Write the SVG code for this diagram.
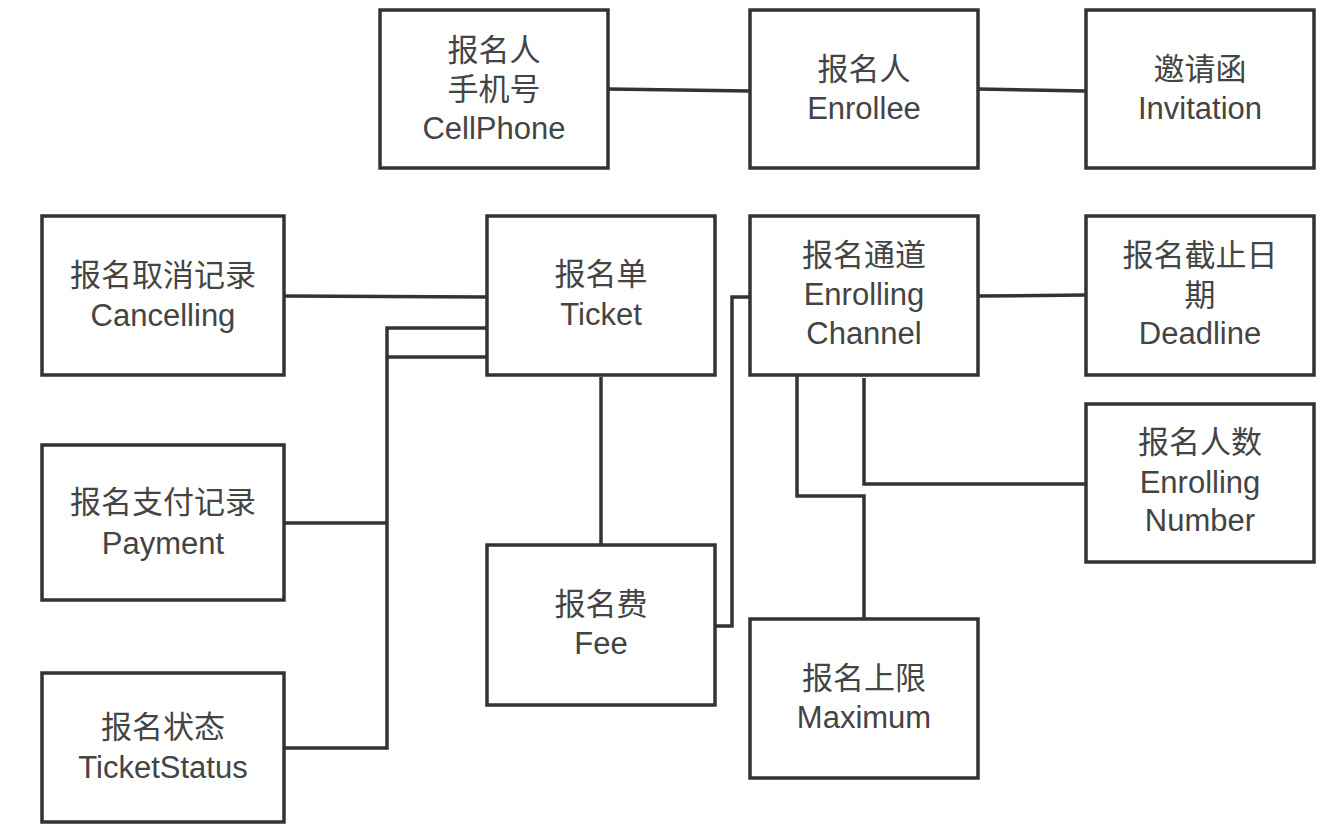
<svg xmlns="http://www.w3.org/2000/svg" width="1331" height="828" viewBox="0 0 1331 828">
<style>
.box{fill:#fff;stroke:#333;stroke-width:3.5}
.ln{fill:none;stroke:#333;stroke-width:3.5}
text{font-family:"Liberation Sans","Noto Sans CJK SC",sans-serif;font-size:31px;fill:#444;text-anchor:middle}
</style>
<rect width="1331" height="828" fill="#fff"/>
<g id="connectors">
<path class="ln" d="M608 89 L750 91"/>
<path class="ln" d="M978 89 L1086 91"/>
<path class="ln" d="M284 296 L487 297"/>
<path class="ln" d="M487 328 L387 328 L387 748 L284 748"/>
<path class="ln" d="M387 357 L487 357"/>
<path class="ln" d="M284 523 L387 523"/>
<path class="ln" d="M601 377 L601 545"/>
<path class="ln" d="M750 297 L732 297 L732 626 L715 626"/>
<path class="ln" d="M978 296 L1086 295"/>
<path class="ln" d="M797 375 L797 496 L864 496 L864 619"/>
<path class="ln" d="M864 378 L864 484 L1086 484"/>
</g>
<g id="cellphone"><rect class="box" x="380" y="10" width="228" height="158"/><text x="494" y="61">报名人</text><text x="494" y="100">手机号</text><text x="494" y="139">CellPhone</text></g>
<g id="enrollee"><rect class="box" x="750" y="10" width="228" height="158"/><text x="864" y="80">报名人</text><text x="864" y="119">Enrollee</text></g>
<g id="invitation"><rect class="box" x="1086" y="10" width="228" height="158"/><text x="1200" y="80">邀请函</text><text x="1200" y="119">Invitation</text></g>
<g id="cancelling"><rect class="box" x="42" y="216" width="242" height="159"/><text x="163" y="286">报名取消记录</text><text x="163" y="326">Cancelling</text></g>
<g id="ticket"><rect class="box" x="487" y="216" width="228" height="159"/><text x="601" y="285">报名单</text><text x="601" y="325">Ticket</text></g>
<g id="channel"><rect class="box" x="750" y="216" width="228" height="159"/><text x="864" y="266">报名通道</text><text x="864" y="305">Enrolling</text><text x="864" y="344">Channel</text></g>
<g id="deadline"><rect class="box" x="1086" y="216" width="228" height="159"/><text x="1200" y="266">报名截止日</text><text x="1200" y="306">期</text><text x="1200" y="344">Deadline</text></g>
<g id="enrollingnumber"><rect class="box" x="1086" y="404" width="228" height="158"/><text x="1200" y="453">报名人数</text><text x="1200" y="493">Enrolling</text><text x="1200" y="531">Number</text></g>
<g id="payment"><rect class="box" x="42" y="445" width="242" height="155"/><text x="163" y="513">报名支付记录</text><text x="163" y="554">Payment</text></g>
<g id="fee"><rect class="box" x="487" y="545" width="228" height="160"/><text x="601" y="615">报名费</text><text x="601" y="654">Fee</text></g>
<g id="maximum"><rect class="box" x="750" y="619" width="228" height="159"/><text x="864" y="689">报名上限</text><text x="864" y="728">Maximum</text></g>
<g id="ticketstatus"><rect class="box" x="42" y="673" width="242" height="149"/><text x="163" y="738">报名状态</text><text x="163" y="778">TicketStatus</text></g>
</svg>
